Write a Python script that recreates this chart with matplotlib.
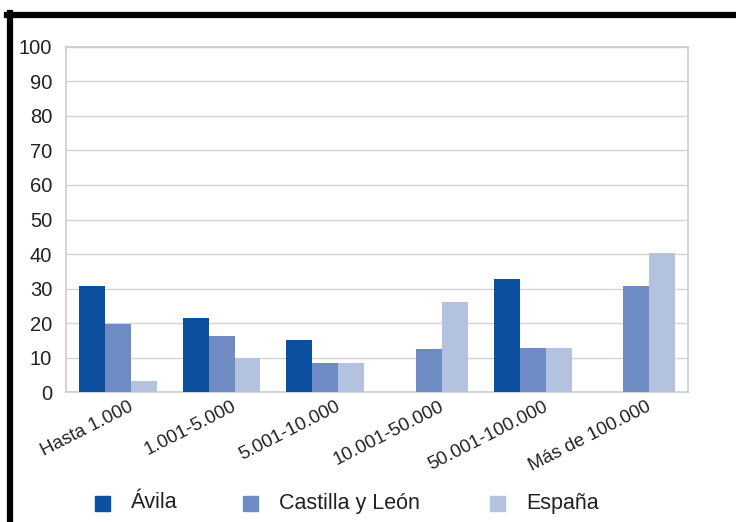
import numpy as np
import matplotlib
matplotlib.use("Agg")
from matplotlib import pyplot as plt
from matplotlib.lines import Line2D
from matplotlib.patches import Rectangle
import matplotlib.transforms as mtransforms

# datos
categories = ["Hasta 1.000", "1.001-5.000", "5.001-10.000",
              "10.001-50.000", "50.001-100.000", "Más de 100.000"]
avila = [30.7, 21.5, 15.0, 0.0, 32.7, 0.0]
castilla = [19.6, 16.1, 8.3, 12.4, 12.9, 30.7]
espana = [3.3, 9.8, 8.3, 26.0, 12.9, 40.2]
series_names = ["Ávila", "Castilla y León", "España"]
colors = ["#0d4f9f", "#6e8cc3", "#b3c3df"]

plt.rcParams["font.family"] = ["Liberation Sans", "DejaVu Sans"]

fig = plt.figure(figsize=(7.36, 5.22), dpi=100)
ax = fig.add_axes([0.0897, 0.249, 0.935 - 0.0897, 0.910 - 0.249])

x = np.arange(len(categories))
width = 0.25
for i, (vals, name, c) in enumerate(zip([avila, castilla, espana], series_names, colors)):
    ax.bar(x + (i - 1) * width, vals, width, color=c, label=name, zorder=3)

ax.set_xlim(-0.5, len(categories) - 0.5)
ax.set_ylim(0, 100)
ax.set_yticks(np.arange(0, 101, 10))
ax.yaxis.grid(True, color="#d4d4d4", linewidth=1, zorder=0)
ax.tick_params(axis="y", length=0, labelsize=14.5, pad=10, colors="#222222")
ax.tick_params(axis="x", length=0, pad=3)
for s in ax.spines.values():
    s.set_color("#cccccc")
    s.set_linewidth(1.2)

# etiquetas del eje x giradas
ax.set_xticks(x)
ax.set_xticklabels(categories, rotation=27, ha="right", va="top",
                   rotation_mode="anchor", fontsize=13.5, color="#222222")
offset = mtransforms.ScaledTranslation(0.10, -0.02, fig.dpi_scale_trans)
for lbl in ax.get_xticklabels():
    lbl.set_transform(lbl.get_transform() + offset)

# leyenda
leg_x = [95, 243, 490]
leg_y = 503
sq = 15
W, H = 736, 522
for lx, name, c in zip(leg_x, series_names, colors):
    fig.add_artist(Rectangle((lx / W, (H - leg_y - sq / 2) / H), sq / W, sq / H,
                             color=c, transform=fig.transFigure))
    fig.text((lx + 36) / W, (H - leg_y) / H, name, fontsize=15.5,
             va="center", ha="left", color="#222222")

# marco negro
fig.add_artist(Line2D([0.0095, 1.0], [0.972, 0.972], color="black",
                      linewidth=4.5, transform=fig.transFigure))
fig.add_artist(Line2D([0.0135, 0.0135], [0.0, 0.976], color="black",
                      linewidth=4.5, transform=fig.transFigure))

fig.savefig("out.png", dpi=100, facecolor="white")
